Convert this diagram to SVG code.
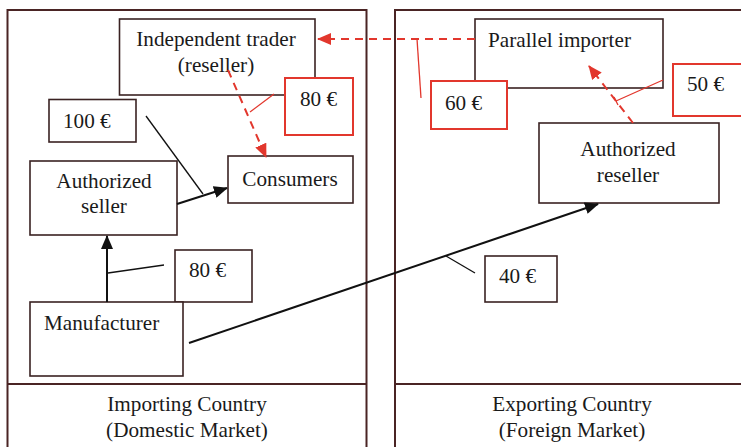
<svg xmlns="http://www.w3.org/2000/svg" width="741" height="447" viewBox="0 0 741 447">
<defs>
<style>
.panel{fill:none;stroke:#4a2424;stroke-width:2}
.box{fill:#fff;stroke:#3a2222;stroke-width:1.6}
.rbox{fill:#fff;stroke:#e2372d;stroke-width:2}
text{font-family:"Liberation Serif","Times New Roman",serif;font-size:21.2px;fill:#1a1a1a}
.c{text-anchor:middle}
.blk{fill:none;stroke:#111;stroke-width:2}
.thin{fill:none;stroke:#111;stroke-width:1.3}
.rd{fill:none;stroke:#e2372d;stroke-width:2;stroke-dasharray:8,6}
.rthin{fill:none;stroke:#e2372d;stroke-width:1.3}
</style>
<marker id="ab" markerUnits="userSpaceOnUse" markerWidth="14" markerHeight="12" refX="13" refY="6" orient="auto"><path d="M0,0 L14,6 L0,12 Z" fill="#111"/></marker>
<marker id="ar" markerUnits="userSpaceOnUse" markerWidth="14" markerHeight="12" refX="13" refY="6" orient="auto"><path d="M0,0 L14,6 L0,12 Z" fill="#e2372d"/></marker>
</defs>
<rect width="741" height="447" fill="#fff"/>
<g id="panel-importing">
<path class="panel" d="M7.5,447 V10 H366.5 V447 M7.5,384 H366.5"/>
<text class="c" x="187" y="411">Importing Country</text>
<text class="c" x="187" y="437">(Domestic Market)</text>
</g>
<g id="panel-exporting">
<path class="panel" d="M395,447 V10 H742 M395,384 H742"/>
<text class="c" x="572" y="411">Exporting Country</text>
<text class="c" x="572" y="437">(Foreign Market)</text>
</g>
<g id="independent-trader">
<rect class="box" x="119.5" y="19" width="195.5" height="76"/>
<text class="c" x="216" y="46">Independent trader</text>
<text class="c" x="216" y="72">(reseller)</text>
</g>
<g id="price-80-red">
<rect class="rbox" x="285" y="78" width="68" height="57"/>
<text x="300" y="106">80 €</text>
</g>
<g id="price-100">
<rect class="box" x="49" y="99.5" width="87" height="42.5"/>
<text x="63" y="128">100 €</text>
</g>
<g id="consumers">
<rect class="box" x="228" y="156" width="125" height="47"/>
<text class="c" x="290" y="186">Consumers</text>
</g>
<g id="authorized-seller">
<rect class="box" x="30" y="161" width="147" height="74"/>
<text class="c" x="104" y="188">Authorized</text>
<text class="c" x="104" y="213">seller</text>
</g>
<g id="price-80">
<rect class="box" x="175" y="250" width="77" height="52"/>
<text x="189" y="277">80 €</text>
</g>
<g id="manufacturer">
<rect class="box" x="30" y="302" width="153" height="74"/>
<text x="44" y="330">Manufacturer</text>
</g>
<g id="price-40">
<rect class="box" x="485" y="256" width="72" height="46"/>
<text x="499" y="283">40 €</text>
</g>
<g id="parallel-importer">
<rect class="box" x="475" y="19" width="188" height="69"/>
<text x="488" y="47">Parallel importer</text>
</g>
<g id="price-60">
<rect class="rbox" x="431" y="81" width="76" height="48"/>
<text x="445" y="110">60 €</text>
</g>
<g id="price-50">
<rect class="rbox" x="673" y="64" width="70" height="52"/>
<text x="687" y="91">50 €</text>
</g>
<g id="authorized-reseller">
<rect class="box" x="539" y="123" width="180" height="80"/>
<text class="c" x="628" y="156">Authorized</text>
<text class="c" x="628" y="182">reseller</text>
</g>
<g id="connectors">
<path class="rd" d="M475,39 H318" marker-end="url(#ar)"/>
<path class="rd" d="M228,70 L266,157" marker-end="url(#ar)"/>
<path class="rd" d="M633,123 L589,66" marker-end="url(#ar)"/>
<path class="blk" d="M177,204 L227,188" marker-end="url(#ab)"/>
<path class="blk" d="M107,302 V236" marker-end="url(#ab)"/>
<path class="blk" d="M189,343 L598,204" marker-end="url(#ab)"/>
<path class="thin" d="M146,116 L203,194"/>
<path class="thin" d="M108,273 L164,265"/>
<path class="thin" d="M446,256 L475,273"/>
<path class="rthin" d="M274,94 L250,112"/>
<path class="rthin" d="M417,39 L421,98"/>
<path class="rthin" d="M663,80 L616,101 M614,97 L618,105"/>
</g>
</svg>
